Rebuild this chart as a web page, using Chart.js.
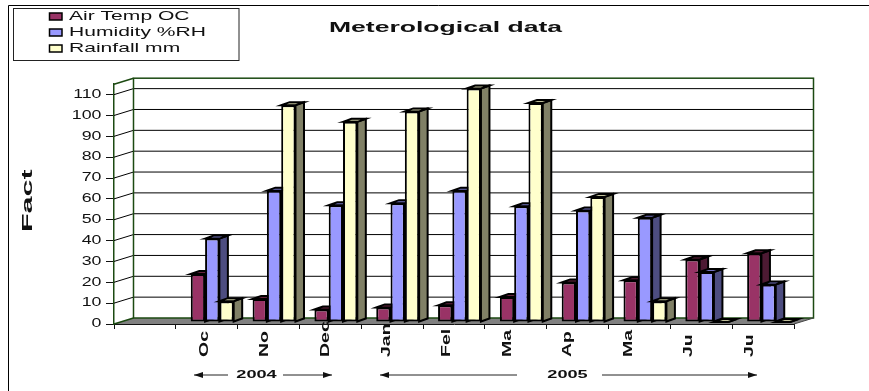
<!DOCTYPE html>
<html>
<head>
<meta charset="utf-8">
<title>Meterological data</title>
<script src="https://cdn.jsdelivr.net/npm/chart.js@4"></script>
<style>
  html, body { margin: 0; padding: 0; background: #fff; }
  canvas { display: block; }
</style>
</head>
<body>
<canvas id="chart" width="869" height="391"></canvas>
<script>
// Monthly readings, first slot of the axis is left empty
const categories = ['', 'Oc', 'No', 'Dec', 'Jan', 'Fel', 'Ma', 'Ap', 'Ma', 'Ju', 'Ju'];
const airTemp = [null, 23, 11, 6, 7, 8, 12, 19, 20, 30, 33];
const humidity = [null, 40, 63, 56, 57, 63, 55.5, 53.5, 50, 24, 18];
const rainfall = [null, 10, 104, 96, 101, 112, 105, 60, 10, 0, 0];
const yTicks = [0, 10, 20, 30, 40, 50, 60, 70, 80, 90, 100, 110];

const chartTitle = 'Meterological data';
const yTitle = 'Fact';

// depth of the floor and walls, and of each bar
const wallDx = 19.5, wallDy = 6;
const barDx = 8.5, barDy = 3;
const barShiftX = 5.5, barShiftY = -2;

const FONT = '"Liberation Sans", Arial, sans-serif';

// Arial stretched sideways, the way the old spreadsheet export prints it
function wideText(ctx, text, x, y, font, sx, align) {
  ctx.save();
  ctx.font = font;
  ctx.fillStyle = '#111';
  ctx.textBaseline = 'middle';
  ctx.textAlign = 'left';
  const w = ctx.measureText(text).width * sx;
  const left = align === 'right' ? x - w : align === 'center' ? x - w / 2 : x;
  ctx.translate(left, y);
  ctx.scale(sx, 1);
  ctx.fillText(text, 0, 0);
  ctx.restore();
}

function poly(ctx, pts, fill) {
  ctx.beginPath();
  pts.forEach((p, i) => i ? ctx.lineTo(p[0], p[1]) : ctx.moveTo(p[0], p[1]));
  ctx.closePath();
  ctx.fillStyle = fill;
  ctx.fill();
  ctx.stroke();
}

function arrow(ctx, x1, x2, y) {
  const dir = x2 > x1 ? 1 : -1;
  ctx.strokeStyle = '#222';
  ctx.lineWidth = 1;
  ctx.beginPath();
  ctx.moveTo(x1, y);
  ctx.lineTo(x2, y);
  ctx.stroke();
  ctx.fillStyle = '#111';
  ctx.beginPath();
  ctx.moveTo(x2, y);
  ctx.lineTo(x2 - dir * 9, y - 3);
  ctx.lineTo(x2 - dir * 9, y + 3);
  ctx.closePath();
  ctx.fill();
}

function drawWalls(chart) {
  const { ctx, chartArea: a, scales: { y } } = chart;
  ctx.save();
  ctx.lineWidth = 1;
  ctx.strokeStyle = '#000';
  ctx.fillStyle = '#808080';
  ctx.beginPath();
  ctx.moveTo(a.left, a.bottom);
  ctx.lineTo(a.right, a.bottom);
  ctx.lineTo(a.right + wallDx, a.bottom - wallDy);
  ctx.lineTo(a.left + wallDx, a.bottom - wallDy);
  ctx.closePath();
  ctx.fill();

  yTicks.forEach(v => {
    if (v === 0) return;
    const py = y.getPixelForValue(v);
    ctx.beginPath();
    ctx.moveTo(a.left, py);
    ctx.lineTo(a.left + wallDx, py - wallDy);
    ctx.lineTo(a.right + wallDx, py - wallDy);
    ctx.stroke();
  });

  ctx.strokeStyle = '#1c4a12';
  ctx.lineWidth = 1.5;
  ctx.strokeRect(a.left + wallDx, a.top - wallDy, a.right - a.left, a.bottom - a.top);
  ctx.beginPath();
  ctx.moveTo(a.left, a.top);
  ctx.lineTo(a.left + wallDx, a.top - wallDy);
  ctx.moveTo(a.left, a.bottom);
  ctx.lineTo(a.left + wallDx, a.bottom - wallDy);
  ctx.stroke();
  ctx.strokeStyle = '#444';
  ctx.lineWidth = 1;
  ctx.beginPath();
  ctx.moveTo(a.right, a.bottom);
  ctx.lineTo(a.right + wallDx, a.bottom - wallDy);
  ctx.stroke();
  ctx.restore();
}

// side and top faces of one series
function drawFaces(ctx, meta, ds) {
  ctx.lineWidth = 2;
  ctx.strokeStyle = '#000';
  meta.data.forEach((bar, i) => {
    if (ds.data[i] === null) return;
    const l = bar.x - bar.width / 2, r = bar.x + bar.width / 2;
    poly(ctx, [[r, bar.y], [r + barDx, bar.y - barDy], [r + barDx, bar.base - barDy], [r, bar.base]], ds.sideColor);
    poly(ctx, [[l, bar.y], [l + barDx, bar.y - barDy], [r + barDx, bar.y - barDy], [r, bar.y]], ds.topColor);
  });
}

// The bars have to stack left to right so each one hides the side of the one before it,
// Chart.js paints the other way round, so the datasets are drawn here instead
const scene = {
  id: 'scene',
  beforeDatasetsDraw(chart) {
    const { ctx } = chart;
    drawWalls(chart);
    chart.getSortedVisibleDatasetMetas().forEach(meta => {
      ctx.save();
      ctx.translate(barShiftX, barShiftY);
      drawFaces(ctx, meta, chart.data.datasets[meta.index]);
      meta.controller.draw();
      ctx.restore();
    });
    return false;
  }
};

// frame, title, legend, axis text and the year brackets
const annotations = {
  id: 'annotations',
  afterDraw(chart) {
    const { ctx, scales: { x, y } } = chart;
    ctx.save();

    ctx.strokeStyle = '#000';
    ctx.lineWidth = 1;
    ctx.beginPath();
    ctx.moveTo(8.5, 391);
    ctx.lineTo(8.5, 5.5);
    ctx.lineTo(869, 5.5);
    ctx.stroke();

    wideText(ctx, chartTitle, 445.5, 27.5, 'bold 15px ' + FONT, 1.77, 'center');

    ctx.strokeStyle = '#222';
    ctx.fillStyle = '#fff';
    ctx.fillRect(13.5, 8.5, 225.5, 52);
    ctx.strokeRect(13.5, 8.5, 225.5, 52);
    chart.data.datasets.forEach((ds, i) => {
      const cy = 16.5 + i * 16;
      ctx.fillStyle = ds.backgroundColor;
      ctx.strokeStyle = '#000';
      ctx.lineWidth = 1.5;
      ctx.fillRect(49.5, cy - 3.5, 12.5, 7);
      ctx.strokeRect(49.5, cy - 3.5, 12.5, 7);
      wideText(ctx, ds.label, 69, cy, '13px ' + FONT, 1.62, 'left');
    });

    yTicks.forEach(v => {
      wideText(ctx, String(v), 101.5, y.getPixelForValue(v), '12px ' + FONT, 1.48, 'right');
    });

    // month labels read bottom to top and creep left along the axis
    categories.forEach((label, i) => {
      if (!label) return;
      ctx.save();
      ctx.translate(x.getPixelForValue(i) - 2.5 - (i - 1) * 1.25, 357);
      ctx.rotate(-Math.PI / 2);
      wideText(ctx, label, 0, 0, 'bold 13px ' + FONT, 1.5, 'left');
      ctx.restore();
    });

    ctx.save();
    ctx.translate(28, 232);
    ctx.rotate(-Math.PI / 2);
    wideText(ctx, yTitle, 0, 0, 'bold 15px ' + FONT, 2.03, 'left');
    ctx.restore();

    wideText(ctx, '2004', 256.5, 375, 'bold 11px ' + FONT, 1.65, 'center');
    arrow(ctx, 228, 194, 375);
    arrow(ctx, 283, 332, 375);
    wideText(ctx, '2005', 567.5, 375, 'bold 11px ' + FONT, 1.65, 'center');
    arrow(ctx, 517, 380, 375);
    arrow(ctx, 602, 757, 375);

    ctx.restore();
  }
};

function makeBars(label, data, color, sideColor, topColor) {
  return {
    label, data, sideColor, topColor,
    backgroundColor: color,
    borderColor: '#000',
    borderWidth: 2,
    borderSkipped: false,
    categoryPercentage: 0.694,
    barPercentage: 1
  };
}

new Chart(document.getElementById('chart'), {
  type: 'bar',
  data: {
    labels: categories,
    datasets: [
      makeBars('Air Temp OC', airTemp, '#993366', '#4d1a33', '#66223f'),
      makeBars('Humidity %RH', humidity, '#9999ff', '#4d4d80', '#7373bf'),
      makeBars('Rainfall mm', rainfall, '#ffffcc', '#808066', '#bfbf99')
    ]
  },
  plugins: [scene, annotations],
  options: {
    responsive: false,
    animation: false,
    layout: { padding: { left: 114, right: 75, top: 84.2, bottom: 67 } },
    plugins: {
      legend: { display: false },
      title: { display: false },
      tooltip: { enabled: false }
    },
    scales: {
      x: {
        afterFit(scale) { scale.height = 0; },
        border: { color: '#111', width: 1 },
        grid: { drawOnChartArea: false, tickLength: 5, tickColor: '#111' },
        ticks: { display: false }
      },
      y: {
        min: 0,
        max: 115,
        afterFit(scale) { scale.width = 0; },
        afterBuildTicks(scale) { scale.ticks = yTicks.map(value => ({ value })); },
        border: { color: '#1c4a12', width: 1.5 },
        grid: { drawOnChartArea: false, tickLength: 8, tickColor: '#111' },
        ticks: { display: false }
      }
    }
  }
});
</script>
</body>
</html>
